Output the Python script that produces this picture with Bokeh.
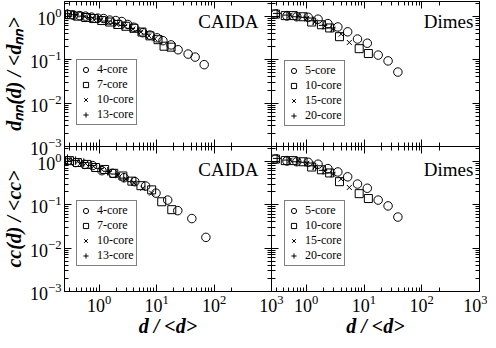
from bokeh.plotting import figure
from bokeh.models import (LogAxis, FixedTicker, LogTickFormatter, CustomJSTickFormatter,
                          Label, Range1d)
from bokeh.layouts import row, column
from bokeh.embed import file_html
from bokeh.resources import INLINE

# ---------------- data ----------------
X_RANGE = (0.25, 1000)
Y_RANGE = (1e-3, 2.2)
x_major_ticks = [1, 10, 100, 1000]
y_major_ticks = [1e-3, 1e-2, 1e-1, 1]

# CAIDA, d_nn
caida_dnn_4_x = [0.28, 0.36, 0.46, 0.58, 0.74, 0.95, 1.20, 1.53, 1.95, 2.48, 3.16, 4.03, 5.78, 7.67, 10.2, 12.9, 17.9, 23.7, 35.4, 46.9, 67.4]
caida_dnn_4_y = [1.12, 1.06, 1.04, 1.01, 0.96, 0.91, 0.89, 0.82, 0.80, 0.76, 0.65, 0.56, 0.42, 0.37, 0.32, 0.275, 0.22, 0.17, 0.135, 0.115, 0.077]
caida_dnn_7_x = [0.306, 0.423, 0.583, 0.805, 1.11, 1.53, 2.11, 2.92, 4.03, 5.56, 7.67, 10.6, 13.5, 17.9]
caida_dnn_7_y = [1.09, 1.01, 0.94, 0.89, 0.80, 0.74, 0.65, 0.59, 0.53, 0.435, 0.355, 0.29, 0.205, 0.195]
caida_dnn_10_x = [0.306, 0.406, 0.56, 0.77, 1.07, 1.47, 2.03, 2.81, 3.87, 5.34, 7.37, 9.33]
caida_dnn_10_y = [1.12, 1.07, 0.98, 0.91, 0.82, 0.72, 0.65, 0.59, 0.51, 0.435, 0.355, 0.304]
caida_dnn_13_x = [0.282, 0.375, 0.52, 0.71, 0.98, 1.36, 1.87, 2.59, 3.57, 4.93, 6.52]
caida_dnn_13_y = [1.15, 1.09, 1.01, 0.94, 0.87, 0.78, 0.69, 0.62, 0.53, 0.46, 0.39]

# Dimes, d_nn
dimes_dnn_5_x = [0.292, 0.463, 0.686, 1.08, 1.60, 2.37, 3.52, 5.21, 7.71, 11.4, 17.6, 26.1, 38.6]
dimes_dnn_5_y = [1.13, 1.02, 0.98, 0.95, 0.86, 0.68, 0.57, 0.44, 0.30, 0.24, 0.128, 0.094, 0.052]
dimes_dnn_10_x = [0.292, 0.433, 0.593, 0.879, 1.24, 1.83, 2.54, 3.76, 8.25, 11.9]
dimes_dnn_10_y = [1.13, 1.04, 1.04, 0.98, 0.74, 0.64, 0.54, 0.34, 0.18, 0.139]
dimes_dnn_15_x = [0.527, 0.722, 1.02, 1.41, 2.08, 2.89, 4.02, 5.57]
dimes_dnn_15_y = [1.07, 1.04, 0.90, 0.74, 0.59, 0.50, 0.39, 0.25]
dimes_dnn_20_x = [0.313, 0.463, 0.686, 0.95, 1.32, 1.95, 2.71]
dimes_dnn_20_y = [1.17, 1.07, 0.98, 0.95, 0.79, 0.62, 0.54]

# CAIDA, cc
caida_cc_4_x = [0.282, 0.39, 0.56, 0.77, 1.12, 1.73, 2.72, 4.19, 6.45, 9.77, 15.6, 23.4, 41.1, 72.2]
caida_cc_4_y = [1.04, 0.94, 0.85, 0.80, 0.61, 0.53, 0.42, 0.34, 0.27, 0.185, 0.128, 0.073, 0.048, 0.0177]
caida_cc_7_x = [0.306, 0.42, 0.61, 0.87, 1.25, 1.80, 2.59, 3.72, 5.34, 8.21, 12.3, 18.4]
caida_cc_7_y = [1.04, 0.94, 0.85, 0.72, 0.65, 0.53, 0.46, 0.35, 0.275, 0.22, 0.117, 0.077]
caida_cc_10_x = [0.306, 0.423, 0.583, 0.805, 1.11, 1.53, 2.11, 2.92, 4.03, 5.78, 8.2]
caida_cc_10_y = [1.09, 0.98, 0.89, 0.76, 0.65, 0.56, 0.48, 0.39, 0.32, 0.24, 0.185]
caida_cc_13_x = [0.282, 0.39, 0.54, 0.743, 1.02, 1.41, 1.95, 2.69, 3.72]
caida_cc_13_y = [1.15, 1.04, 0.94, 0.80, 0.69, 0.59, 0.51, 0.41, 0.34]

# Dimes, cc
dimes_cc_5_x = [0.292, 0.463, 0.686, 1.08, 1.60, 2.37, 3.52, 5.21, 7.71, 11.4, 17.6, 26.1, 38.6]
dimes_cc_5_y = [1.13, 1.02, 0.98, 0.95, 0.86, 0.68, 0.57, 0.44, 0.30, 0.24, 0.128, 0.094, 0.052]
dimes_cc_10_x = [0.292, 0.433, 0.593, 0.879, 1.24, 1.83, 2.54, 3.76, 8.25, 11.9]
dimes_cc_10_y = [1.13, 1.04, 1.04, 0.98, 0.74, 0.64, 0.54, 0.34, 0.18, 0.139]
dimes_cc_15_x = [0.527, 0.722, 1.02, 1.41, 2.08, 2.89, 4.02, 5.57]
dimes_cc_15_y = [1.07, 1.04, 0.90, 0.74, 0.59, 0.50, 0.39, 0.25]
dimes_cc_20_x = [0.313, 0.463, 0.686, 0.95, 1.32, 1.95, 2.71]
dimes_cc_20_y = [1.17, 1.07, 0.98, 0.95, 0.79, 0.62, 0.54]

caida_labels = ["4-core", "7-core", "10-core", "13-core"]
dimes_labels = ["5-core", "10-core", "15-core", "20-core"]

# ---------------- style ----------------
SERIF = "Liberation Serif"
MARKERS = [("circle", 8.5), ("square", 8), ("x", 7), ("cross", 8.5)]
FW_L, FW_R, FH = 207, 208, 145


def minor_for(majors):
    out = []
    for m in majors:
        for k in range(2, 10):
            out.append(m * k / 10.0)
    out.append(majors[-1] * 2)
    return out


x_minor_ticks = [t for t in minor_for([0.1] + x_major_ticks[:-1]) if X_RANGE[0] <= t <= X_RANGE[1]]
y_minor_ticks = [t for t in minor_for([1e-3, 1e-2, 1e-1, 1]) if Y_RANGE[0] <= t <= Y_RANGE[1]]


def style_axis(ax, ticks, minor, labels):
    ax.ticker = FixedTicker(ticks=ticks, minor_ticks=minor)
    ax.axis_line_color = "black"
    ax.axis_line_width = 1
    ax.major_tick_in = 7
    ax.major_tick_out = 0
    ax.minor_tick_in = 4
    ax.minor_tick_out = 0
    ax.major_tick_line_color = "black"
    ax.minor_tick_line_color = "black"
    if labels:
        ax.formatter = LogTickFormatter()
        ax.major_label_text_font = SERIF
        ax.major_label_text_font_size = "18px"
        ax.major_label_text_color = "black"
        ax.major_label_standoff = 3
    else:
        ax.formatter = CustomJSTickFormatter(code="return ''")
        ax.major_label_text_font_size = "0px"
        ax.major_label_standoff = 0


def make_panel(series, labels, tag, tag_x, tag_y, fw, left, right, top, bottom,
               xlabels, ylabels, ylab, legend_loc):
    p = figure(frame_width=fw, frame_height=FH,
               x_axis_type="log", y_axis_type="log",
               x_axis_location=None, y_axis_location=None,
               x_range=Range1d(*X_RANGE), y_range=Range1d(*Y_RANGE),
               output_backend="svg", toolbar_location=None,
               min_border_left=left, min_border_right=right,
               min_border_top=top, min_border_bottom=bottom)
    p.grid.visible = False
    p.outline_line_color = "black"
    p.border_fill_alpha = 0
    p.background_fill_color = "white"

    ax_b = LogAxis()
    style_axis(ax_b, x_major_ticks, x_minor_ticks, xlabels)
    ax_t = LogAxis()
    style_axis(ax_t, x_major_ticks, x_minor_ticks, False)
    ax_l = LogAxis()
    style_axis(ax_l, y_major_ticks, y_minor_ticks, ylabels)
    ax_r = LogAxis()
    style_axis(ax_r, y_major_ticks, y_minor_ticks, False)
    if xlabels:
        ax_b.axis_label = "d / <d>"
        ax_b.axis_label_text_font = SERIF
        ax_b.axis_label_text_font_style = "bold italic"
        ax_b.axis_label_text_font_size = "20px"
        ax_b.axis_label_text_color = "black"
        ax_b.axis_label_standoff = 0
    if ylabels:
        ax_l.axis_label = ylab
        ax_l.axis_label_text_font = SERIF
        ax_l.axis_label_text_font_style = "bold italic"
        ax_l.axis_label_text_font_size = "20px"
        ax_l.axis_label_text_color = "black"
        ax_l.axis_label_standoff = 2
    p.add_layout(ax_b, "below")
    p.add_layout(ax_t, "above")
    p.add_layout(ax_l, "left")
    p.add_layout(ax_r, "right")

    for (xs, ys), (mk, sz), lab in zip(series, MARKERS, labels):
        p.scatter(xs, ys, marker=mk, size=sz, line_color="black", line_width=1,
                  fill_alpha=0, legend_label=lab)

    lg = p.legend[0]
    lg.location = legend_loc
    lg.border_line_color = "black"
    lg.border_line_width = 1
    lg.background_fill_color = "white"
    lg.background_fill_alpha = 1
    lg.label_text_font = SERIF
    lg.label_text_font_size = "12px"
    lg.label_text_color = "black"
    lg.label_height = 12
    lg.glyph_height = 13
    lg.glyph_width = 13
    lg.label_standoff = 5
    lg.spacing = -1
    lg.padding = 2
    lg.margin = 0

    p.add_layout(Label(x=tag_x, y=tag_y, text=tag, text_align="right",
                       text_baseline="middle", text_font=SERIF,
                       text_font_size="19px", text_color="black"))
    return p


tl = make_panel([(caida_dnn_4_x, caida_dnn_4_y), (caida_dnn_7_x, caida_dnn_7_y),
                 (caida_dnn_10_x, caida_dnn_10_y), (caida_dnn_13_x, caida_dnn_13_y)],
                caida_labels, "CAIDA", 593, 0.76, FW_L, 57, 16, 1, 12,
                False, True, "d\u2099\u2099(d) / <d\u2099\u2099>", (12, 21))
tr = make_panel([(dimes_dnn_5_x, dimes_dnn_5_y), (dimes_dnn_10_x, dimes_dnn_10_y),
                 (dimes_dnn_15_x, dimes_dnn_15_y), (dimes_dnn_20_x, dimes_dnn_20_y)],
                dimes_labels, "Dimes", 780, 0.76, FW_R, 16, 8, 1, 12,
                False, False, None, (13, 20))
bl = make_panel([(caida_cc_4_x, caida_cc_4_y), (caida_cc_7_x, caida_cc_7_y),
                 (caida_cc_10_x, caida_cc_10_y), (caida_cc_13_x, caida_cc_13_y)],
                caida_labels, "CAIDA", 593, 0.64, FW_L, 57, 16, 12, 48,
                True, True, "cc(d) / <cc>", (12, 25))
br = make_panel([(dimes_cc_5_x, dimes_cc_5_y), (dimes_cc_10_x, dimes_cc_10_y),
                 (dimes_cc_15_x, dimes_cc_15_y), (dimes_cc_20_x, dimes_cc_20_y)],
                dimes_labels, "Dimes", 780, 0.64, FW_R, 16, 8, 12, 48,
                True, False, None, (13, 25))

tr.margin = (0, 0, 0, -32)
br.margin = (0, 0, 0, -32)
top_row = row(tl, tr)
bot_row = row(bl, br)
bot_row.margin = (-24, 0, 0, 0)
layout = column(top_row, bot_row)

open("out.html", "w").write(file_html(layout, INLINE))
